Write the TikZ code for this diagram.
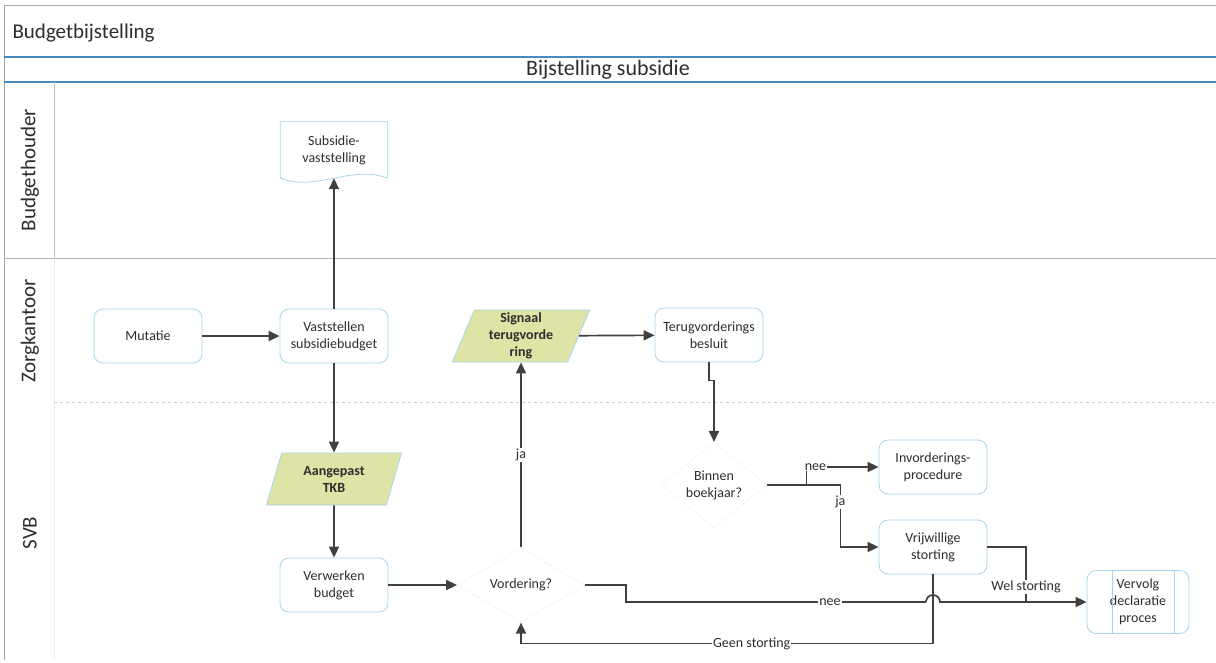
\documentclass[tikz,border=0pt]{standalone}
\usepackage{fontspec}
\setmainfont{Carlito}
\usetikzlibrary{arrows.meta,shapes.geometric,positioning}

\definecolor{lijn}{RGB}{64,64,64}
\definecolor{rand}{RGB}{165,212,236}
\definecolor{geel}{RGB}{222,228,165}
\definecolor{balk}{RGB}{70,140,195}
\definecolor{tekst}{RGB}{45,45,45}

\newcommand{\tekstmaat}{\fontsize{14}{17}\selectfont}

\begin{document}
\begin{tikzpicture}[x=1pt,y=-1pt,
  proc/.style={draw=rand, line width=0.8pt, rounded corners=9pt, fill=white,
    minimum width=108pt, minimum height=54pt, inner sep=2pt, align=center,
    text=tekst, font=\tekstmaat},
  data/.style={trapezium, trapezium left angle=72, trapezium right angle=108,
    trapezium stretches=true, draw=rand, line width=0.8pt, fill=geel,
    minimum width=138pt, minimum height=52pt, inner sep=1pt, align=center,
    text=tekst, font=\bfseries\tekstmaat},
  beslis/.style={diamond, draw=gray!8, line width=0.8pt, minimum width=127pt,
    minimum height=73pt, inner sep=0pt, align=center, text=tekst, font=\tekstmaat},
  pijl/.style={draw=lijn, line width=1.7pt, -{Triangle[length=11pt,width=10pt]}},
  verbind/.style={draw=lijn, line width=1.7pt},
  lbl/.style={fill=white, inner sep=1pt, text=tekst, font=\tekstmaat},
  lanetext/.style={rotate=90, text=tekst, font=\fontsize{21}{24}\selectfont}]
\useasboundingbox (0,0) rectangle (1216,662);

% kader en banen
\draw[gray!70, line width=1pt] (4,660) -- (4,5) -- (1216,5);
\node[anchor=west, text=tekst, font=\fontsize{21}{24}\selectfont] (titel) at (9,33) {Budgetbijstelling};
\draw[balk, line width=1.6pt] (4,57) -- (1216,57);
\draw[balk, line width=1.6pt] (4,82) -- (1216,82);
\node[text=tekst, font=\fontsize{22}{24}\selectfont] (fase) at (608,70) {Bijstelling subsidie};
\draw[gray!60, line width=0.8pt] (4,258) -- (1216,258);
\draw[gray!40, line width=0.8pt, dashed] (54,402) -- (1216,402);
\draw[gray!50, line width=0.8pt] (54,82) -- (54,258);
\draw[gray!15, line width=0.8pt] (54,258) -- (54,660);
\foreach \y/\naam/\baan in {170/bh/Budgethouder, 331/zk/Zorgkantoor, 533/svb/SVB}
  \node[lanetext] (\naam) at (30,\y) {\baan};

% Budgethouder
\node[align=center, text=tekst, font=\tekstmaat, minimum width=107pt,
  minimum height=56pt] (beschikking) at (334,150) {Subsidie-\\vaststelling};
\draw[rand, line width=0.8pt] (beschikking.south west) -- (beschikking.north west)
  -- (beschikking.north east) -- (beschikking.south east)
  .. controls +(-36,-14) and +(36,14) .. (beschikking.south west);

% Zorgkantoor
\node[proc] (mutatie) at (148,336) {Mutatie};
\node[proc] (vaststellen) at (334,336) {Vaststellen\\subsidiebudget};
\node[data] (signaal) at (521,336) {Signaal\\terugvorde\\ring};
\node[proc] (besluit) at (709,335) {Terugvorderings\\besluit};

% SVB
\node[data, minimum width=136pt] (tkb) at (334,479) {Aangepast\\TKB};
\node[proc] (verwerken) at (334,585) {Verwerken\\budget};
\node[beslis] (vordering) at (521,585) {Vordering?};
\node[beslis, minimum width=106pt, minimum height=64pt] (boekjaar) at (714,485) {Binnen\\boekjaar?};
\node[proc] (invordering) at (933,467) {Invorderings-\\procedure};
\node[proc] (storting) at (933,547) {Vrijwillige\\storting};
\node[proc, minimum width=102pt, minimum height=63pt] (vervolg) at (1138,602) {Vervolg\\declaratie\\proces};
\draw[rand, line width=0.8pt] ([xshift=26pt]vervolg.north west) -- ([xshift=26pt]vervolg.south west);
\draw[rand, line width=0.8pt] ([xshift=-15pt]vervolg.north east) -- ([xshift=-15pt]vervolg.south east);

\coordinate (kruis) at (storting.south |- vervolg.west);
\coordinate (samen) at (1026,602);

% verbindingen
\draw[pijl] (mutatie) -- (vaststellen);
\draw[pijl] (vaststellen.north) -- (beschikking.south);
\draw[pijl] (vaststellen) -- (tkb);
\draw[pijl] (tkb) -- (verwerken);
\draw[pijl] (verwerken) -- (vordering);
\draw[pijl] (vordering) -- node[lbl] {ja} (signaal);
\draw[pijl] (signaal) -- (besluit);
\draw[pijl] (besluit.south) -- ++(0,18) -| (boekjaar.north);
\draw[pijl] (boekjaar.east) -- ++(39,0) |- node[lbl, pos=0.5, xshift=9pt] {nee} (invordering.west);
\draw[pijl] (boekjaar.east) -- ++(73,0) |- node[lbl, pos=0.14] {ja} (storting.west);
\draw[verbind] (vordering.east) -- ++(41,0) |- node[lbl, pos=0.84] {nee} ([xshift=-7pt]kruis);
\draw[pijl] ([xshift=-7pt]kruis) arc[start angle=180, end angle=0, radius=7pt] -- (vervolg.west);
\draw[verbind] (storting.east) -| node[lbl, pos=0.86] {Wel storting} (samen);
\draw[pijl] (storting.south) -- ++(0,69) -| node[lbl, pos=0.22] {Geen storting} (vordering.south);
\end{tikzpicture}
\end{document}
